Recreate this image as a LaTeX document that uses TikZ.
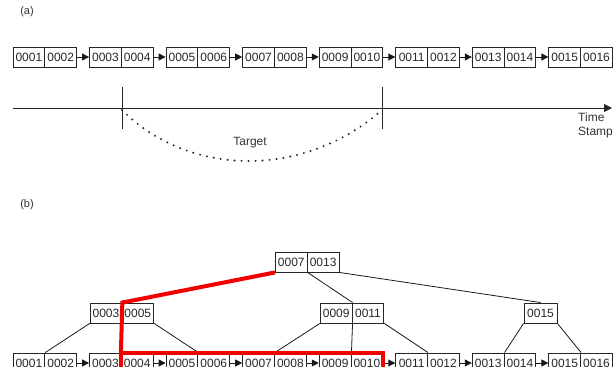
\documentclass[tikz,border=0pt]{standalone}
\usepackage{fontspec}
\setmainfont{Liberation Sans}
\usetikzlibrary{arrows.meta}
\begin{document}
\begin{tikzpicture}[x=1pt,y=-1pt,
  cell/.style={draw=black!85, line width=0.9pt, minimum width=31.8pt, minimum height=20pt,
    inner sep=0pt, font=\fontsize{12}{14}\selectfont, text=black!85},
  link/.style={draw=black!90, line width=0.9pt, -{Triangle[length=7pt,width=7pt]}},
  tree/.style={draw=black!90, line width=0.8pt},
  redpath/.style={draw=red!95!black, line width=4pt, line join=miter},
  lbl/.style={font=\fontsize{12}{14}\selectfont, text=black!80, inner sep=0pt}
]
\useasboundingbox (0,0) rectangle (614,367);
% labels
\node[lbl, font=\fontsize{11}{13}\selectfont] (la) at (27,12) {(a)};
\node[lbl, font=\fontsize{11}{13}\selectfont] (lb) at (27,205) {(b)};
% rows of cells
\foreach \p in {1,...,8}{
  \pgfmathsetmacro{\xl}{13+76.55*(\p-1)}
  \pgfmathtruncatemacro{\ia}{2*\p-1}
  \pgfmathtruncatemacro{\ib}{2*\p}
  \pgfmathsetmacro{\xa}{\xl+15.9}
  \pgfmathsetmacro{\xb}{\xl+47.7}
  \node[cell] (a\ia) at (\xa,57) {\ifnum\ia<10 000\ia\else 00\ia\fi};
  \node[cell] (a\ib) at (\xb,57) {\ifnum\ib<10 000\ib\else 00\ib\fi};
  \node[cell] (b\ia) at (\xa,363) {\ifnum\ia<10 000\ia\else 00\ia\fi};
  \node[cell] (b\ib) at (\xb,363) {\ifnum\ib<10 000\ib\else 00\ib\fi};
}
\foreach \s/\t in {2/3,4/5,6/7,8/9,10/11,12/13,14/15}{
  \draw[link] (a\s.east) -- (a\t.west);
  \draw[link] (b\s.east) -- (b\t.west);
}
% timeline
\coordinate (t0) at (13,108);
\coordinate (t1) at (612,108);
\coordinate (k1a) at (122,87);
\coordinate (k1b) at (122,129);
\coordinate (k2a) at (382,87);
\coordinate (k2b) at (382,129);
\coordinate (c1) at (122,110);
\coordinate (c2) at (382,110);
\draw[line width=0.9pt, black!85, -{Triangle[length=8pt,width=8pt]}] (t0) -- (t1);
\draw[line width=0.9pt, black!85] (k1a) -- (k1b);
\draw[line width=0.9pt, black!85] (k2a) -- (k2b);
\draw[line width=2.2pt, black!85, line cap=round, dash pattern=on 0pt off 7pt]
  (c1) .. controls (190,178) and (305,178) .. (c2);
\node[lbl] (target) at (250,143) {Target};
\node[lbl, anchor=west, align=left] (ts) at (578,125) {Time\\Stamp};
% tree
\node[cell] (r1) at (291.3,262) {0007};
\node[cell] (r2) at (323.1,262) {0013};
\node[cell] (m1) at (106,313) {0003};
\node[cell] (m2) at (137.8,313) {0005};
\node[cell] (n1) at (336.2,313) {0009};
\node[cell] (n2) at (368,313) {0011};
\node[cell, minimum width=33pt] (p) at (540.5,313) {0015};
\draw[tree] (r1.south east) -- (n1.north east);
\draw[tree] (r2.south east) -- (p.north);
\draw[tree] (m1.south west) -- (b1.north east);
\draw[tree] (m2.south east) -- (b5.north east);
\draw[tree] (n1.south west) -- (b7.north east);
\draw[tree] (n1.south east) -- (b9.north east);
\draw[tree] (n2.south east) -- (b11.north east);
\draw[tree] (p.south west) -- (b13.north east);
\draw[tree] (p.south east) -- (b15.north east);
% red search path
\draw[redpath] (r1.south west) -- (m1.north east) -- (b4.north west);
\draw[redpath] (b4.north west) rectangle (b10.south east);
\end{tikzpicture}
\end{document}
